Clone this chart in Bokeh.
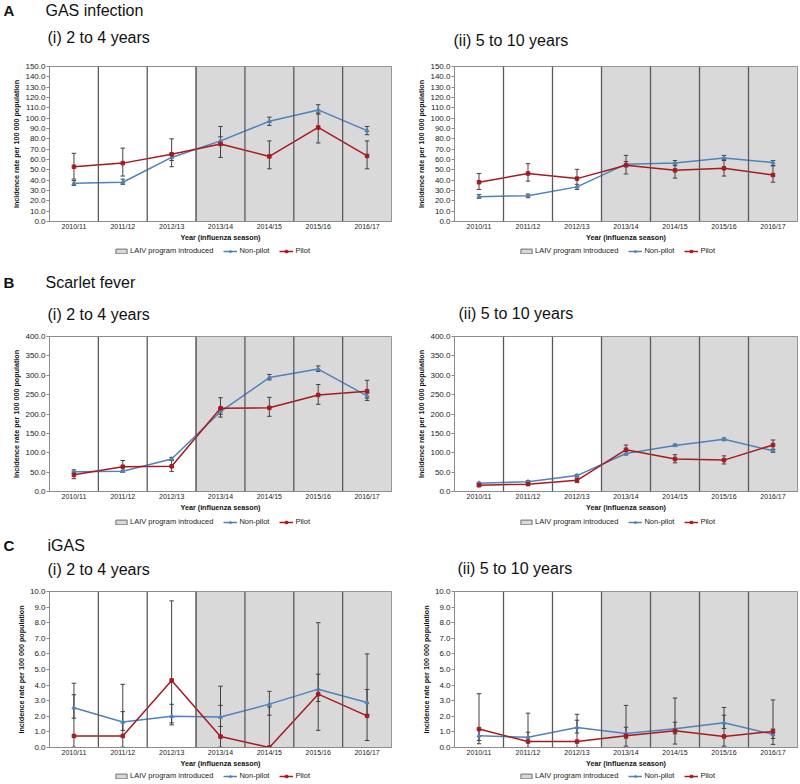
from bokeh.plotting import figure
from bokeh.layouts import column, row
from bokeh.models import (Range1d, FixedTicker, Span, Legend, LegendItem,
                          PrintfTickFormatter)
from bokeh.core.properties import value
from bokeh.embed import file_html
from bokeh.resources import INLINE

# ---------------- data ----------------
seasons = ["2010/11", "2011/12", "2012/13", "2013/14", "2014/15", "2015/16", "2016/17"]
laiv_start = "2013/14"

panel_letters = ["A", "B", "C"]
panel_names = ["GAS infection", "Scarlet fever", "iGAS"]
age_groups = ["(i) 2 to 4 years", "(ii) 5 to 10 years"]
legend_labels = ["LAIV program introduced", "Non-pilot", "Pilot"]

# A. GAS infection, 2 to 4 years
gas24_np = [37.0, 38.0, 62.0, 78.0, 97.0, 108.0, 88.0]
gas24_np_lo = [35.0, 36.0, 59.0, 74.0, 93.0, 104.0, 84.0]
gas24_np_hi = [39.5, 41.0, 66.0, 82.0, 101.0, 113.0, 92.0]
gas24_p = [53.0, 56.5, 65.0, 75.0, 63.0, 91.0, 63.5]
gas24_p_lo = [41.0, 44.0, 53.0, 62.0, 51.0, 76.0, 51.0]
gas24_p_hi = [66.0, 71.0, 80.0, 92.0, 78.0, 105.0, 78.0]

# A. GAS infection, 5 to 10 years
gas510_np = [24.0, 25.0, 33.5, 55.5, 56.5, 61.5, 57.0]
gas510_np_lo = [22.5, 23.0, 31.0, 53.0, 54.0, 59.0, 54.0]
gas510_np_hi = [26.0, 26.5, 36.0, 58.0, 59.0, 64.0, 59.0]
gas510_p = [38.0, 46.5, 41.5, 54.5, 49.5, 51.5, 45.0]
gas510_p_lo = [31.0, 39.0, 33.0, 46.0, 42.0, 44.0, 38.0]
gas510_p_hi = [46.5, 56.0, 50.5, 64.0, 57.0, 60.0, 54.0]

# B. Scarlet fever, 2 to 4 years
sf24_np = [51.0, 52.0, 84.0, 206.0, 294.0, 316.0, 247.0]
sf24_np_lo = [47.0, 49.0, 80.0, 199.0, 288.0, 310.0, 241.0]
sf24_np_hi = [56.0, 55.0, 88.0, 213.0, 302.0, 324.0, 254.0]
sf24_p = [43.0, 64.0, 65.0, 215.0, 216.0, 249.0, 259.0]
sf24_p_lo = [33.0, 50.0, 52.0, 192.0, 194.0, 225.0, 235.0]
sf24_p_hi = [52.0, 80.0, 80.0, 242.0, 243.0, 276.0, 287.0]

# B. Scarlet fever, 5 to 10 years
sf510_np = [21.5, 25.0, 41.0, 98.0, 119.0, 135.0, 105.0]
sf510_np_lo = [19.0, 23.0, 38.0, 94.0, 116.0, 131.0, 101.0]
sf510_np_hi = [24.0, 28.0, 44.0, 103.0, 122.0, 138.0, 109.0]
sf510_p = [16.0, 19.0, 29.0, 108.0, 84.0, 81.0, 120.0]
sf510_p_lo = [13.0, 16.0, 23.0, 98.0, 74.0, 71.0, 108.0]
sf510_p_hi = [20.0, 22.0, 35.0, 120.0, 95.0, 92.0, 133.0]

# C. iGAS, 2 to 4 years
igas24_np = [2.55, 1.63, 2.0, 1.95, 2.78, 3.74, 2.88]
igas24_np_lo = [1.88, 1.1, 1.45, 1.35, 2.07, 2.95, 2.1]
igas24_np_hi = [3.38, 2.3, 2.77, 2.7, 3.6, 4.7, 3.72]
igas24_p = [0.74, 0.74, 4.3, 0.7, 0.0, 3.42, 2.03]
igas24_p_lo = [0.02, 0.02, 1.58, 0.02, 0.0, 1.1, 0.45]
igas24_p_hi = [4.12, 4.05, 9.4, 3.93, 2.6, 8.0, 6.0]

# C. iGAS, 5 to 10 years
igas510_np = [0.75, 0.66, 1.28, 0.9, 1.2, 1.58, 0.85]
igas510_np_lo = [0.45, 0.4, 0.93, 0.6, 0.88, 1.22, 0.58]
igas510_np_hi = [1.15, 0.98, 1.75, 1.3, 1.62, 2.07, 1.18]
igas510_p = [1.18, 0.38, 0.38, 0.75, 1.07, 0.71, 1.03]
igas510_p_lo = [0.24, 0.01, 0.01, 0.09, 0.22, 0.09, 0.2]
igas510_p_hi = [3.45, 2.2, 2.13, 2.7, 3.17, 2.57, 3.05]

# ---------------- styling / geometry ----------------
FONT = "Liberation Sans"
BLUE = "#4F81BD"
RED = "#A8191E"
ERR = "#404040"
SHADE = "#D9D9D9"
SEP = "#5A5A5A"
FRAME = "#8C8C8C"
TXT = "#111111"

# header strips: (height, y of letter line, y of age line left, y of age line right, x of age right)
HEADERS = [(58, 48, 21, 18, 453), (64, 47, 15.5, 16, 458), (57, 39, 15.5, 16, 457)]
# plot rows: (border top, frame height, border bottom)
ROWS = [(8, 155, 24), (7, 155, 24), (7, 156, 24)]
# legend strips: (height, legend bottom offset)
LEG = [(20, 10), (12, 1), (13, 4)]
SIDES = {"left": (49, 342, 14), "right": (49, 343, 3)}


def make_header(k):
    h, y_letter, y_left, y_right, x_right = HEADERS[k]
    p = figure(width=800, height=h, x_range=Range1d(0, 800), y_range=Range1d(0, h),
               min_border=0, x_axis_location=None, y_axis_location=None,
               output_backend="svg", toolbar_location=None)
    p.grid.grid_line_color = None
    p.outline_line_color = None
    p.text(x=[3], y=[y_letter], text=[panel_letters[k]], text_font=value(FONT),
           text_font_size=value("15px"), text_font_style="bold", text_color=TXT,
           text_baseline="middle", text_align="left")
    p.text(x=[45 if k < 2 else 47], y=[y_letter], text=[panel_names[k]], text_font=value(FONT),
           text_font_size=value("16px"), text_color=TXT,
           text_baseline="middle", text_align="left")
    p.text(x=[47, x_right], y=[y_left, y_right], text=age_groups, text_font=value(FONT),
           text_font_size=value("16px"), text_color=TXT,
           text_baseline="middle", text_align="left")
    return p


def add_series(p, xs, ymax, np_v, p_v, visible=True):
    n = len(seasons)
    s0 = seasons.index(laiv_start) + 0.5
    shade = p.quad(left=[s0], right=[n + 0.5], bottom=[0], top=[ymax],
                   fill_color=SHADE, line_color="#6E6E6E", line_width=1, visible=visible)
    l_np = p.line(xs, np_v, line_color=BLUE, line_width=1.5, visible=visible)
    m_np = p.scatter(xs, np_v, marker="triangle", size=4, fill_color=BLUE, line_color=BLUE,
                     visible=visible)
    l_p = p.line(xs, p_v, line_color=RED, line_width=1.5, visible=visible)
    m_p = p.scatter(xs, p_v, marker="square", size=3.5, fill_color=RED, line_color=RED,
                    visible=visible)
    return [[shade], [l_np, m_np], [l_p, m_p]]


def make_panel(side, k, ymax, ystep, np_v, np_lo, np_hi, p_v, p_lo, p_hi):
    top, fh, bottom = ROWS[k]
    bl, fw, br = SIDES[side]
    n = len(seasons)
    xs = [i + 1 for i in range(n)]
    p = figure(frame_width=fw, frame_height=fh, min_border_left=bl, min_border_right=br,
               min_border_top=top, min_border_bottom=bottom,
               x_range=Range1d(0.5, n + 0.5), y_range=Range1d(0, ymax),
               output_backend="svg", toolbar_location=None)
    p.xgrid.grid_line_color = None
    p.ygrid.grid_line_color = None
    p.outline_line_color = FRAME
    p.background_fill_color = "white"
    p.border_fill_color = "white"

    s0 = seasons.index(laiv_start) + 0.5
    p.quad(left=[s0], right=[n + 0.5], bottom=[0], top=[ymax],
           fill_color=SHADE, line_color=FRAME, line_width=1)
    for i in range(1, n):
        p.add_layout(Span(location=i + 0.5, dimension="height", line_color=SEP, line_width=1.3))

    for lo, hi in ((np_lo, np_hi), (p_lo, p_hi)):
        p.segment(x0=xs, y0=lo, x1=xs, y1=hi, line_color=ERR, line_width=1)
        p.scatter(xs, lo, marker="dash", size=4.5, line_color=ERR, line_width=1)
        p.scatter(xs, hi, marker="dash", size=4.5, line_color=ERR, line_width=1)

    p.line(xs, np_v, line_color=BLUE, line_width=1.5)
    p.scatter(xs, np_v, marker="triangle", size=4, fill_color=BLUE, line_color=BLUE)
    p.line(xs, p_v, line_color=RED, line_width=1.5)
    p.scatter(xs, p_v, marker="square", size=3.5, fill_color=RED, line_color=RED)

    xa = p.xaxis[0]
    xa.ticker = FixedTicker(ticks=xs)
    xa.major_label_overrides = {x: s for x, s in zip(xs, seasons)}
    xa.major_tick_line_color = None
    xa.major_tick_out = 0
    xa.major_tick_in = 0
    xa.minor_tick_line_color = None
    xa.axis_line_color = FRAME
    xa.major_label_text_font = FONT
    xa.major_label_text_font_size = "7px"
    xa.major_label_text_color = "#222222"
    xa.major_label_standoff = 1
    xa.axis_label = "Year (influenza season)"
    xa.axis_label_text_font = FONT
    xa.axis_label_text_font_size = "7.2px"
    xa.axis_label_text_font_style = "bold"
    xa.axis_label_text_color = TXT
    xa.axis_label_standoff = 0

    ya = p.yaxis[0]
    ya.ticker = FixedTicker(ticks=[j * ystep for j in range(int(round(ymax / ystep)) + 1)])
    ya.formatter = PrintfTickFormatter(format="%.1f")
    ya.major_tick_out = 3
    ya.major_tick_in = 0
    ya.major_tick_line_color = FRAME
    ya.minor_tick_line_color = None
    ya.axis_line_color = FRAME
    ya.major_label_text_font = FONT
    ya.major_label_text_font_size = "8px"
    ya.major_label_text_color = "#222222"
    ya.major_label_standoff = 1
    ya.axis_label = "Incidence rate per 100 000 population"
    ya.axis_label_text_font = FONT
    ya.axis_label_text_font_size = "7.2px"
    ya.axis_label_text_font_style = "bold"
    ya.axis_label_text_color = TXT
    ya.axis_label_standoff = 1

    # legend strip below the plot (keys taken from hidden copies of the series)
    lh, lbot = LEG[k]
    total_w = bl + fw + br
    s = figure(width=total_w, height=lh, x_range=Range1d(0.5, n + 0.5), y_range=Range1d(0, ymax),
               min_border=0, x_axis_location=None, y_axis_location=None,
               output_backend="svg", toolbar_location=None)
    s.grid.grid_line_color = None
    s.outline_line_color = None
    groups = add_series(s, xs, ymax, np_v, p_v, visible=False)
    legend = Legend(items=[LegendItem(label=lab, renderers=r) for lab, r in zip(legend_labels, groups)],
                    orientation="horizontal", location=(114, lbot),
                    label_text_font=FONT, label_text_font_size="7.5px", label_text_color="#222222",
                    glyph_width=14, glyph_height=6, label_standoff=2, spacing=10,
                    padding=0, margin=0, border_line_color=None, background_fill_alpha=0,
                    label_height=8, inactive_fill_alpha=0)
    s.add_layout(legend, "center")
    return p, s


a1, la1 = make_panel("left", 0, 150, 10, gas24_np, gas24_np_lo, gas24_np_hi,
                     gas24_p, gas24_p_lo, gas24_p_hi)
a2, la2 = make_panel("right", 0, 150, 10, gas510_np, gas510_np_lo, gas510_np_hi,
                     gas510_p, gas510_p_lo, gas510_p_hi)
b1, lb1 = make_panel("left", 1, 400, 50, sf24_np, sf24_np_lo, sf24_np_hi,
                     sf24_p, sf24_p_lo, sf24_p_hi)
b2, lb2 = make_panel("right", 1, 400, 50, sf510_np, sf510_np_lo, sf510_np_hi,
                     sf510_p, sf510_p_lo, sf510_p_hi)
c1, lc1 = make_panel("left", 2, 10, 1, igas24_np, igas24_np_lo, igas24_np_hi,
                     igas24_p, igas24_p_lo, igas24_p_hi)
c2, lc2 = make_panel("right", 2, 10, 1, igas510_np, igas510_np_lo, igas510_np_hi,
                     igas510_p, igas510_p_lo, igas510_p_hi)

layout = column(make_header(0), row(a1, a2), row(la1, la2),
                make_header(1), row(b1, b2), row(lb1, lb2),
                make_header(2), row(c1, c2), row(lc1, lc2))
open("out.html", "w").write(file_html(layout, INLINE))
